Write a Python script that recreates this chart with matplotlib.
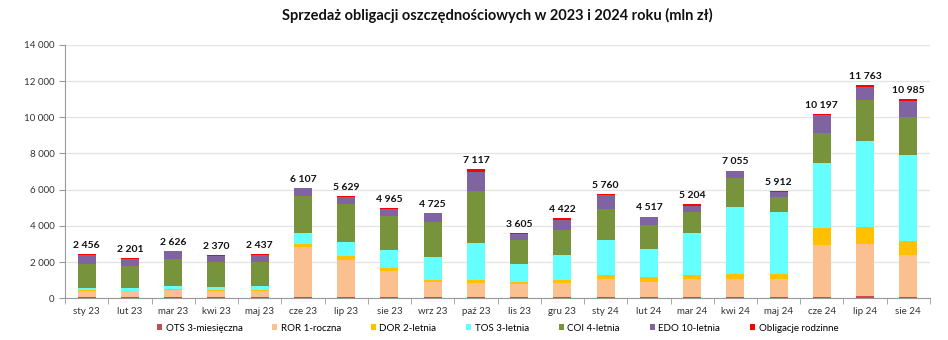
import numpy as np
import matplotlib
matplotlib.use("Agg")
import matplotlib.pyplot as plt
from matplotlib.ticker import FuncFormatter, MultipleLocator

plt.rcParams['font.family'] = ['Lato', 'DejaVu Sans']

# miesiące i sprzedaż poszczególnych serii (mln zł)
months = ["sty 23", "lut 23", "mar 23", "kwi 23", "maj 23", "cze 23", "lip 23",
          "sie 23", "wrz 23", "paź 23", "lis 23", "gru 23", "sty 24", "lut 24",
          "mar 24", "kwi 24", "maj 24", "cze 24", "lip 24", "sie 24"]

ots = [90, 70, 80, 70, 70, 80, 80, 60, 60, 60, 60, 70, 90, 70, 80, 90, 70, 80, 120, 100]
ror = [330, 330, 370, 360, 360, 2730, 2050, 1460, 860, 810, 720, 800, 960, 850, 970,
       1000, 1000, 2880, 2890, 2280]
dor = [20, 20, 40, 30, 40, 200, 220, 160, 100, 150, 110, 150, 260, 240, 240, 260, 280,
       920, 930, 760]
tos = [130, 130, 210, 170, 210, 590, 760, 1000, 1250, 2030, 1030, 1360, 1920, 1580,
       2300, 3700, 3420, 3610, 4770, 4770]
coi = [1320, 1210, 1460, 1350, 1350, 2040, 2100, 1890, 1960, 2860, 1310, 1390, 1710,
       1330, 1200, 1570, 810, 1640, 2230, 2110]
edo = [510, 400, 430, 330, 350, 440, 370, 350, 460, 1060, 340, 570, 770, 400, 330,
       400, 320, 980, 740, 860]
rodzinne = [56, 41, 36, 60, 57, 27, 49, 45, 35, 147, 35, 82, 50, 47, 84, 35, 12, 87,
            83, 105]

series = [
    ("OTS 3-miesięczna", ots, "#C0504D"),
    ("ROR 1-roczna", ror, "#FAC090"),
    ("DOR 2-letnia", dor, "#FFC000"),
    ("TOS 3-letnia", tos, "#66FFFF"),
    ("COI 4-letnia", coi, "#77933C"),
    ("EDO 10-letnia", edo, "#8064A2"),
    ("Obligacje rodzinne", rodzinne, "#FF0000"),
]


def pl_num(v, pos=None):
    return f"{int(round(v)):,}".replace(",", " ")


fig = plt.figure(figsize=(9.48, 3.40), dpi=100)
ax = fig.add_axes([0.0686, 0.1226, 0.9124, 0.7454])

x = np.arange(len(months))
bottom = np.zeros(len(months))
for name, vals, color in series:
    ax.bar(x, vals, width=0.42, bottom=bottom, color=color, label=name, zorder=3)
    bottom += np.array(vals)

# sumy nad słupkami
for xi, total in zip(x, bottom):
    ax.text(xi, total + 230, pl_num(total), ha="center", va="bottom",
            fontsize=7.5, fontweight="bold", color="#111111")

ax.set_xlim(-0.5, len(months) - 0.5)
ax.set_ylim(0, 14000)
ax.yaxis.set_major_locator(MultipleLocator(2000))
ax.yaxis.set_major_formatter(FuncFormatter(pl_num))
ax.grid(axis="y", color="#E3E3E3", linewidth=0.9, zorder=0)

ax.set_xticks(x)
ax.set_xticklabels(months)
ax.set_xticks(np.arange(-0.5, len(months)), minor=True)
ax.tick_params(axis="x", which="major", length=0, labelsize=7, colors="#333333", pad=6)
ax.tick_params(axis="x", which="minor", length=4, color="#9A9A9A")
ax.tick_params(axis="y", length=4, color="#9A9A9A", labelsize=7, labelcolor="#333333")

for side in ["top", "right"]:
    ax.spines[side].set_visible(False)
for side in ["left", "bottom"]:
    ax.spines[side].set_color("#9A9A9A")
    ax.spines[side].set_linewidth(0.8)

ax.set_title("Sprzedaż obligacji oszczędnościowych w 2023 i 2024 roku (mln zł)",
             fontsize=10.5, fontweight="bold", color="#111111", pad=18)

leg = ax.legend(loc="upper center", bbox_to_anchor=(0.5, -0.065), ncol=7, frameon=False,
                fontsize=7, handlelength=0.55, handleheight=0.55, handletextpad=0.35,
                columnspacing=3.05)

fig.savefig("out.png", dpi=100)
